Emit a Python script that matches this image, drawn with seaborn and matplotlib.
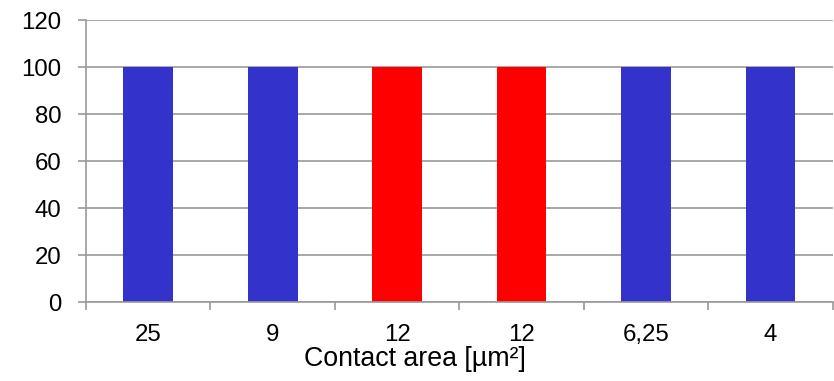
import matplotlib
matplotlib.use("Agg")
import matplotlib.pyplot as plt
import seaborn as sns
import numpy as np

categories = ["25", "9", "12", "12", "6,25", "4"]
values = [100, 100, 100, 100, 100, 100]
bar_colors = ["#3333CC", "#3333CC", "#FF0000", "#FF0000", "#3333CC", "#3333CC"]
y_ticks = [0, 20, 40, 60, 80, 100, 120]
x_label = "Contact area [µm²]"

sns.set_theme(style="white")
plt.rcParams['font.family'] = ['Liberation Sans', 'DejaVu Sans']

fig = plt.figure(figsize=(8.34, 3.81), dpi=100)
ax = fig.add_axes([0.103, 0.2073, 0.8955, 0.7402])

pos = list(range(len(categories)))
sns.barplot(x=pos, y=values, hue=pos, palette=bar_colors, legend=False,
            width=0.4, ax=ax, saturation=1, linewidth=0)

ax.set_xlim(-0.5, len(categories) - 0.5)
ax.set_ylim(0, 120)
ax.set_yticks(y_ticks)
ax.set_yticklabels([str(t) for t in y_ticks], fontsize=17.3, color="black")
ax.set_xticks(pos)
ax.set_xticklabels(categories, fontsize=17.3, color="black")
ax.set_xticks(np.arange(-0.5, len(categories), 1.0), minor=True)
ax.tick_params(axis="x", which="major", bottom=True, length=0, pad=15.5)
ax.tick_params(axis="x", which="minor", bottom=True, length=6, width=1.2,
               color="#999999", direction="out")
ax.tick_params(axis="y", which="major", left=True, length=6, width=1.2,
               color="#999999", direction="out", pad=11.5)
ax.grid(axis="y", color="#999999", linewidth=1.2)
ax.set_axisbelow(True)
for s in ["top", "right"]:
    ax.spines[s].set_visible(False)
for s in ["left", "bottom"]:
    ax.spines[s].set_color("#999999")
    ax.spines[s].set_linewidth(1.2)
ax.set_xlabel(x_label, fontsize=19.3, color="black")
ax.xaxis.set_label_coords(0.441, -0.156)
ax.set_ylabel("")

fig.savefig("out.png", dpi=100)
